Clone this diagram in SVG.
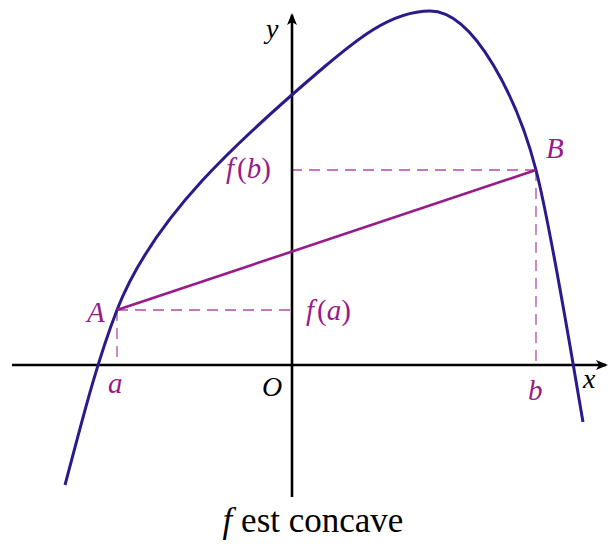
<svg xmlns="http://www.w3.org/2000/svg" width="612" height="545" viewBox="0 0 612 545">
<style>
text{font-family:'Liberation Serif','DejaVu Serif',serif}
.lbl{font-style:italic;font-size:29px;fill:#9a1a88}
.blk{font-style:italic;font-size:28px;fill:#000}
.cap{font-size:35px;fill:#000}
.dash{stroke:#b44aa6;stroke-width:1.3;stroke-dasharray:11 7;fill:none}
.axis{stroke:#000;stroke-width:2.6;fill:none}
</style>
<defs>
<marker id="arr" viewBox="0 0 12 10" refX="10" refY="5" markerWidth="12" markerHeight="10" markerUnits="userSpaceOnUse" orient="auto">
<path d="M0,0 L12,5 L0,10 L3,5 Z" fill="#000"/>
</marker>
</defs>
<g id="connectors">
<line class="dash" x1="117" y1="310" x2="292" y2="310"/>
<line class="dash" x1="117" y1="310" x2="117" y2="365"/>
<line class="dash" x1="536" y1="170" x2="292" y2="170"/>
<line class="dash" x1="536" y1="170" x2="536" y2="365"/>
</g>
<g id="axes">
<line class="axis" x1="12" y1="365" x2="606" y2="365" marker-end="url(#arr)"/>
<line class="axis" x1="292" y1="497" x2="292" y2="15" marker-end="url(#arr)"/>
</g>
<g id="curve">
<path d="M65,485 C80.6,426.8 95.4,365.8 117,310 C153,217 239.2,139.3 323,68 C353.5,42.1 390,11 430,11 C475,11 518.5,102 536,170 C551,228 572.8,363 583,422" fill="none" stroke="#2a1a8c" stroke-width="3"/>
</g>
<g id="chord">
<line x1="117" y1="310" x2="536" y2="170" stroke="#9a1a88" stroke-width="2.6"/>
</g>
<g id="labels">
<text class="lbl" x="87" y="322">A</text>
<text class="lbl" x="546" y="158">B</text>
<text class="lbl" x="108" y="393">a</text>
<text class="lbl" x="528" y="400">b</text>
<text class="lbl" x="226" y="178">f<tspan font-style="normal" dx="3">(</tspan>b<tspan font-style="normal">)</tspan></text>
<text class="lbl" x="306" y="320">f<tspan font-style="normal" dx="3">(</tspan>a<tspan font-style="normal">)</tspan></text>
<text class="blk" x="262" y="396">O</text>
<text class="blk" x="266" y="38">y</text>
<text class="blk" x="583" y="388">x</text>
</g>
<g id="caption">
<text class="cap" x="313" y="532" text-anchor="middle"><tspan font-style="italic">f</tspan> est concave</text>
</g>
</svg>
